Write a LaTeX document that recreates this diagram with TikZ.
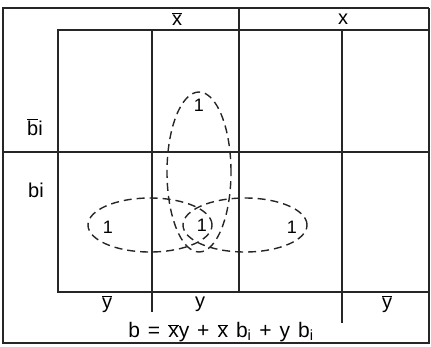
\documentclass[tikz,border=0pt]{standalone}
\usepackage{fontspec}
\setmainfont{Liberation Sans}
\usetikzlibrary{positioning}
\newcommand{\ovl}[1]{$\overline{\mbox{#1}}$}

\tikzset{
  gridline/.style={line width=1.6pt,black!85},
  grupo/.style={line width=1.4pt,black!85,dash pattern=on 8pt off 5pt},
  rotulo/.style={inner sep=0pt,font=\fontsize{20}{22}\selectfont},
  um/.style={inner sep=0pt,font=\fontsize{18}{20}\selectfont}
}

\begin{document}
\begin{tikzpicture}[x=1pt,y=-1pt]
    \useasboundingbox (0,0) rectangle (431,346);
    % outer frame
    \draw[gridline] (429,8) -- (3,8) -- (3,343) -- (429,343) -- (429,8);
    \draw[gridline] (239,8) -- (239,30);
    % map
    \draw[gridline] (58,30) rectangle (429,292);
    \draw[gridline] (3,152) -- (429,152);
    \draw[gridline] (152,30) -- (152,312);
    \draw[gridline] (239,30) -- (239,292);
    \draw[gridline] (342,30) -- (342,323);
    
    \node[rotulo] (xn) at (177,19) {\ovl{x}};
    \node[rotulo] (xp) at (343,19) {x};
    \node[rotulo] (bn) at (35,127) {\ovl{b}i};
    \node[rotulo] (bp) at (36,190) {bi};
    \node[rotulo] (yn1) at (107,304) {\ovl{y}};
    \node[rotulo] (yp) at (200,304) {y};
    \node[rotulo] (yn2) at (387,304) {\ovl{y}};
    \node[rotulo,font=\fontsize{21}{23}\selectfont] (eq) at (221,332)
      {\spaceskip=8pt b = \ovl{x}y + \ovl{x} b\textsubscript{i} + y b\textsubscript{i}};
    
    % ones
    \node[um] (m1) at (199,105) {1};
    \node[um] (m2) at (108,227) {1};
    \node[um] (m3) at (202,225) {1};
    \node[um] (m4) at (292,227) {1};
    
    % groups
    \draw[grupo] (199,172) ellipse [x radius=32pt,y radius=80pt];
    \draw[grupo] (150,225) ellipse [x radius=62pt,y radius=27pt];
    \draw[grupo] (245,225) ellipse [x radius=62pt,y radius=27pt];
  \end{tikzpicture}
\end{document}
